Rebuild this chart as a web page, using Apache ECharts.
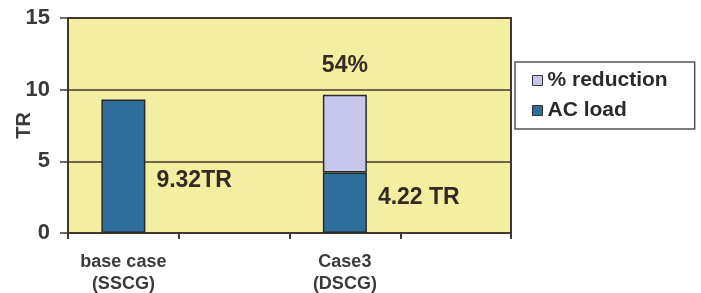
<!DOCTYPE html>
<html><head><meta charset="utf-8">
<script src="https://cdn.jsdelivr.net/npm/echarts@6/dist/echarts.min.js"></script>
<style>html,body{margin:0;padding:0;background:#fff}#c{width:701px;height:293px}</style>
</head><body><div id="c"></div>
<script>
const categories = ['base case\n(SSCG)', '', 'Case3\n(DSCG)', ''];
const acLoad = [9.32, null, 4.22, null];
const reduction = [null, null, 5.43, null];
const acLabels = ['9.32TR', '', '4.22 TR', ''];
const reductionLabels = ['', '', '54%', ''];
const yTicks = [0, 5, 10, 15];

const dark = '#43372b';
const acOffsets = [[0, 14], null, [0, -5], null];

const chart = echarts.init(document.getElementById('c'));
chart.setOption({
  animation: false,
  backgroundColor: '#fff',
  textStyle: { fontFamily: 'Liberation Sans, Arial, sans-serif' },
  grid: { left: 68, top: 18, width: 443, height: 215, containLabel: false, outerBoundsMode: 'none',
    show: true, backgroundColor: '#f3eea2', borderColor: dark, borderWidth: 2 },
  legend: {
    orient: 'vertical', left: 515, top: 62,
    data: ['% reduction', 'AC load'], icon: 'rect',
    backgroundColor: '#fff', borderColor: '#555', borderWidth: 1.5,
    padding: [8, 27, 8, 17], itemWidth: 10, itemHeight: 10, itemGap: 9,
    textStyle: { fontSize: 21, fontWeight: 'bold', color: '#2a2a2a' },
    itemStyle: { borderColor: '#333', borderWidth: 1 }
  },
  xAxis: {
    type: 'category', data: categories,
    axisLine: { lineStyle: { color: dark, width: 2 } },
    axisTick: { show: true, length: 6, lineStyle: { color: dark, width: 2 } },
    axisLabel: { fontSize: 18, fontWeight: 'bold', color: '#3a3a3a', lineHeight: 22, margin: 18, interval: 0 }
  },
  yAxis: {
    type: 'value', min: yTicks[0], max: yTicks[yTicks.length - 1], interval: 5,
    name: 'TR', nameLocation: 'middle', nameGap: 34, nameRotate: 90, nameMoveOverlap: false,
    nameTextStyle: { fontSize: 20, fontWeight: 'bold', color: '#3a3a3a' },
    axisLine: { show: true, lineStyle: { color: dark, width: 2 } },
    axisTick: { show: true, length: 8, lineStyle: { color: dark, width: 1.5 } },
    axisLabel: { fontSize: 22, fontWeight: 'bold', color: '#3a3a3a', margin: 18 },
    splitLine: { show: true, lineStyle: { color: dark, width: 1.5 } }
  },
  series: [
    {
      name: 'AC load', type: 'bar', stack: 's', barWidth: 44,
      itemStyle: { color: '#2f6f9c', borderColor: '#2a2a2a', borderWidth: 1.5 },
      data: acLoad.map((v, i) => ({
        value: v,
        label: acLabels[i] ? { show: true, position: 'right', distance: 11, offset: acOffsets[i], formatter: acLabels[i],
          fontSize: 23, fontWeight: 'bold', color: '#332a22' } : { show: false }
      }))
    },
    {
      name: '% reduction', type: 'bar', stack: 's', barWidth: 44,
      itemStyle: { color: '#c7c7ec', borderColor: '#2a2a2a', borderWidth: 1.5 },
      data: reduction.map((v, i) => ({
        value: v,
        label: reductionLabels[i] ? { show: true, position: 'top', distance: 18, formatter: reductionLabels[i],
          fontSize: 23, fontWeight: 'bold', color: '#332a22' } : { show: false }
      }))
    }
  ]
});
</script></body></html>
